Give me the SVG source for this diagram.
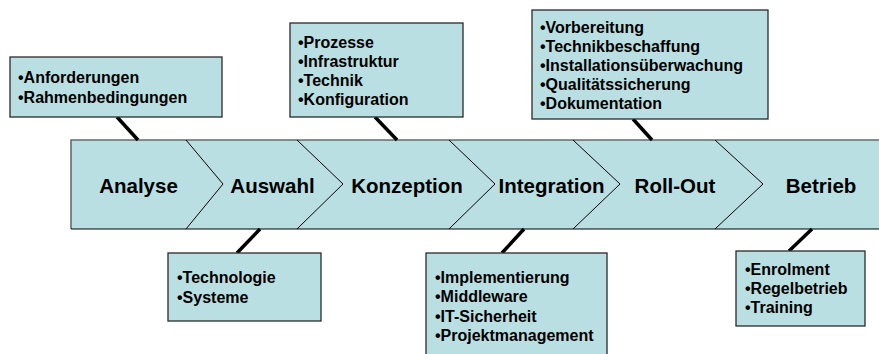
<svg xmlns="http://www.w3.org/2000/svg" width="879" height="354" viewBox="0 0 879 354">
<style>
.stage{fill:#BADFE3;stroke:none}
.chev{fill:none;stroke:#000;stroke-width:1}
.box{fill:#BADFE3;stroke:#2a2a2a;stroke-width:1.3}
.lbl{font-family:"Liberation Sans",Arial,sans-serif;font-weight:bold;font-size:20.5px;fill:#000;text-anchor:middle}
.txt{font-family:"Liberation Sans",Arial,sans-serif;font-weight:bold;font-size:16px;fill:#000}
.con{stroke:#000;stroke-width:3.5;fill:none}
</style>
<rect width="879" height="354" fill="#fff"/>
<g id="stage-analyse">
<polygon class="stage" points="71,140 186,140 223,184 186,229 71,229"/>
<text class="lbl" x="138.5" y="193">Analyse</text>
</g>
<g id="stage-auswahl">
<polygon class="stage" points="186,140 297,140 343,184 297,229 186,229 223,184"/>
<text class="lbl" x="272.5" y="193">Auswahl</text>
</g>
<g id="stage-konzeption">
<polygon class="stage" points="297,140 449,140 495,184 449,229 297,229 343,184"/>
<text class="lbl" x="407" y="193">Konzeption</text>
</g>
<g id="stage-integration">
<polygon class="stage" points="449,140 573,140 620,184 573,229 449,229 495,184"/>
<text class="lbl" x="551.5" y="193">Integration</text>
</g>
<g id="stage-rollout">
<polygon class="stage" points="573,140 715,140 763,184 715,229 573,229 620,184"/>
<text class="lbl" x="675" y="193">Roll-Out</text>
</g>
<g id="stage-betrieb">
<polygon class="stage" points="715,140 879,140 879,229 715,229 763,184"/>
<text class="lbl" x="821" y="193">Betrieb</text>
</g>
<g id="band-outline">
<polyline points="71,229 71,140 879,140" fill="none" stroke="#5f6e6e" stroke-width="1.6"/>
<line x1="71" y1="229" x2="879" y2="229" stroke="#000" stroke-width="1.2"/>
<polyline class="chev" points="186,140 223,184 186,229"/>
<polyline class="chev" points="297,140 343,184 297,229"/>
<polyline class="chev" points="449,140 495,184 449,229"/>
<polyline class="chev" points="573,140 620,184 573,229"/>
<polyline class="chev" points="715,140 763,184 715,229"/>
</g>
<g id="connectors">
<line class="con" x1="117" y1="117" x2="138" y2="140"/>
<line class="con" x1="375" y1="117" x2="397" y2="140"/>
<line class="con" x1="633" y1="119" x2="652" y2="140"/>
<line class="con" x1="260" y1="229" x2="237" y2="253"/>
<line class="con" x1="524" y1="229" x2="502" y2="253"/>
<line class="con" x1="812" y1="229" x2="789" y2="251"/>
</g>
<g id="box-analyse">
<rect class="box" x="10" y="57" width="212" height="60"/>
<text class="txt" x="18" y="83">•Anforderungen</text>
<text class="txt" x="18" y="103">•Rahmenbedingungen</text>
</g>
<g id="box-konzeption">
<rect class="box" x="290" y="23" width="173" height="94"/>
<text class="txt" x="298" y="48">•Prozesse</text>
<text class="txt" x="298" y="67">•Infrastruktur</text>
<text class="txt" x="298" y="86">•Technik</text>
<text class="txt" x="298" y="105">•Konfiguration</text>
</g>
<g id="box-rollout">
<rect class="box" x="532" y="10" width="236" height="109"/>
<text class="txt" x="540" y="33">•Vorbereitung</text>
<text class="txt" x="540" y="52">•Technikbeschaffung</text>
<text class="txt" x="540" y="71">•Installationsüberwachung</text>
<text class="txt" x="540" y="90">•Qualitätssicherung</text>
<text class="txt" x="540" y="109">•Dokumentation</text>
</g>
<g id="box-auswahl">
<rect class="box" x="168" y="253" width="153" height="68"/>
<text class="txt" x="177" y="283">•Technologie</text>
<text class="txt" x="177" y="303">•Systeme</text>
</g>
<g id="box-integration">
<rect class="box" x="426" y="253" width="181" height="104"/>
<text class="txt" x="435" y="283">•Implementierung</text>
<text class="txt" x="435" y="302">•Middleware</text>
<text class="txt" x="435" y="322">•IT-Sicherheit</text>
<text class="txt" x="435" y="341">•Projektmanagement</text>
</g>
<g id="box-betrieb">
<rect class="box" x="736" y="251" width="129" height="75"/>
<text class="txt" x="745" y="275">•Enrolment</text>
<text class="txt" x="745" y="294">•Regelbetrieb</text>
<text class="txt" x="745" y="313">•Training</text>
</g>
</svg>
